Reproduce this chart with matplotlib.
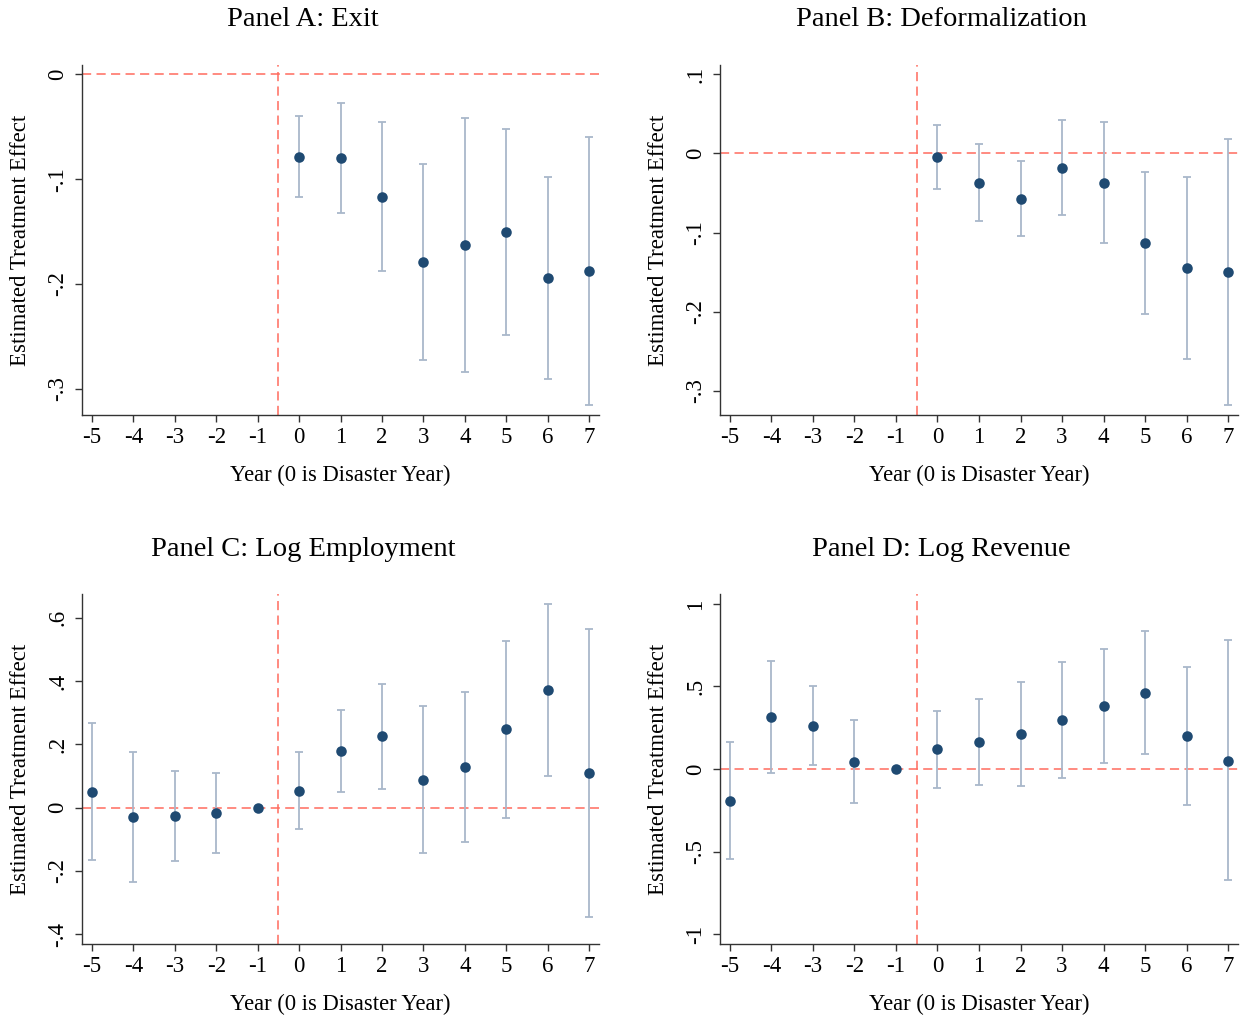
import matplotlib
matplotlib.use("Agg")
import matplotlib.pyplot as plt
import numpy as np

plt.rcParams['font.family'] = ['Liberation Serif', 'DejaVu Serif']

# ---------------- data ----------------
years_all = [-5, -4, -3, -2, -1, 0, 1, 2, 3, 4, 5, 6, 7]
years_post = [0, 1, 2, 3, 4, 5, 6, 7]
xtick_labels = ["-5", "-4", "-3", "-2", "-1", "0", "1", "2", "3", "4", "5", "6", "7"]

# Panel A: Exit
exit_coef = [-0.0785, -0.0798, -0.1166, -0.1792, -0.1627, -0.1506, -0.1945, -0.1878]
exit_hi = [-0.0400, -0.0276, -0.0454, -0.0858, -0.0413, -0.0518, -0.0982, -0.0601]
exit_lo = [-0.1166, -0.1319, -0.1875, -0.2723, -0.2841, -0.2491, -0.2908, -0.3152]
exit_yticks = [0, -0.1, -0.2, -0.3]
exit_ytick_labels = ["0", "-.1", "-.2", "-.3"]

# Panel B: Deformalization
deform_coef = [-0.0051, -0.0371, -0.0573, -0.0185, -0.0371, -0.1128, -0.1448, -0.1499]
deform_hi = [0.0354, 0.0122, -0.0097, 0.0417, 0.0392, -0.0232, -0.0299, 0.0185]
deform_lo = [-0.0455, -0.0851, -0.1048, -0.0783, -0.1128, -0.2025, -0.2598, -0.3179]
deform_yticks = [0.1, 0, -0.1, -0.2, -0.3]
deform_ytick_labels = [".1", "0", "-.1", "-.2", "-.3"]

# Panel C: Log Employment
emp_coef = [0.0505, -0.0305, -0.0263, -0.0168, 0.0, 0.0536, 0.1777, 0.2250, 0.0873, 0.1283, 0.2471, 0.3712, 0.1094]
emp_hi = [0.268, 0.1767, 0.1157, 0.1094, 0.0, 0.1756, 0.307, 0.392, 0.3197, 0.3649, 0.5279, 0.6435, 0.5636]
emp_lo = [-0.166, -0.2355, -0.1672, -0.142, 0.0, -0.0673, 0.0494, 0.0589, -0.145, -0.1083, -0.0326, 0.0999, -0.3449]
emp_yticks = [0.6, 0.4, 0.2, 0, -0.2, -0.4]
emp_ytick_labels = [".6", ".4", ".2", "0", "-.2", "-.4"]

# Panel D: Log Revenue
rev_coef = [-0.1915, 0.3125, 0.262, 0.0423, 0.0, 0.119, 0.165, 0.2117, 0.2964, 0.381, 0.4617, 0.1976, 0.0504]
rev_hi = [0.1653, 0.655, 0.502, 0.294, 0.0, 0.353, 0.427, 0.526, 0.649, 0.730, 0.8367, 0.617, 0.780]
rev_lo = [-0.548, -0.026, 0.024, -0.2077, 0.0, -0.113, -0.0948, -0.1008, -0.0524, 0.0363, 0.0887, -0.2198, -0.675]
rev_yticks = [1, 0.5, 0, -0.5, -1]
rev_ytick_labels = ["1", ".5", "0", "-.5", "-1"]

titles = ["Panel A: Exit", "Panel B: Deformalization", "Panel C: Log Employment", "Panel D: Log Revenue"]
xlabel = "Year (0 is Disaster Year)"
ylabel = "Estimated Treatment Effect"

# ---------------- style ----------------
W, H = 1245, 1017
fig = plt.figure(figsize=(W / 100, H / 100), dpi=100)

navy = "#1f4a72"
ci_col = "#a9b8ca"
red = "#ff6b5e"
axcol = "#333333"

def px_axes(x0, y0, x1, y1):
    return fig.add_axes([x0 / W, 1 - y1 / H, (x1 - x0) / W, (y1 - y0) / H])

panels = [
    (px_axes(82, 65, 599, 415), years_post, exit_coef, exit_lo, exit_hi, exit_yticks, exit_ytick_labels, (-0.325, 0.009)),
    (px_axes(720, 65, 1238, 415), years_post, deform_coef, deform_lo, deform_hi, deform_yticks, deform_ytick_labels, (-0.3305, 0.1116)),
    (px_axes(82, 594, 599, 944), years_all, emp_coef, emp_lo, emp_hi, emp_yticks, emp_ytick_labels, (-0.431, 0.675)),
    (px_axes(720, 594, 1238, 944), years_all, rev_coef, rev_lo, rev_hi, rev_yticks, rev_ytick_labels, (-1.0605, 1.0605)),
]

title_pos = [(303, 20), (941, 20), (303, 549), (941, 549)]

for i, (ax, xs, coef, lo, hi, yt, ytl, ylim) in enumerate(panels):
    coef = np.array(coef)
    lo = np.array(lo)
    hi = np.array(hi)
    ax.axhline(0, color=red, lw=1.1, ls=(0, (6, 3.5)), zorder=1)
    ax.axvline(-0.5, color=red, lw=1.1, ls=(0, (6, 3.5)), zorder=1)
    ax.errorbar(xs, coef, yerr=[coef - lo, hi - coef], fmt='none', ecolor=ci_col,
                elinewidth=1.3, capsize=3.2, capthick=1.3, zorder=2)
    ax.plot(xs, coef, 'o', color=navy, markersize=7.6, zorder=3, markeredgewidth=0)
    ax.set_xlim(-5.24, 7.24)
    ax.set_ylim(*ylim)
    ax.set_xticks(years_all)
    ax.set_xticklabels(xtick_labels)
    ax.set_yticks(yt)
    ax.set_yticklabels(ytl, rotation=90, va='center')
    for s in ['top', 'right']:
        ax.spines[s].set_visible(False)
    for s in ['left', 'bottom']:
        ax.spines[s].set_color(axcol)
        ax.spines[s].set_linewidth(1.0)
    ax.tick_params(axis='both', colors=axcol, labelcolor='black', labelsize=16.5,
                   length=5, width=1.0)
    ax.tick_params(axis='x', pad=4)
    ax.tick_params(axis='y', pad=5)
    ax.set_xlabel(xlabel, fontsize=16.3)
    ax.set_ylabel(ylabel, fontsize=16.5)
    ax.xaxis.set_label_coords(0.5, -0.143)
    ax.yaxis.set_label_coords(-0.098, 0.5)
    tx, ty = title_pos[i]
    fig.text(tx / W, 1 - ty / H, titles[i], fontsize=20.5, ha='center', va='center')

fig.savefig("out.png", dpi=100, facecolor='white')
